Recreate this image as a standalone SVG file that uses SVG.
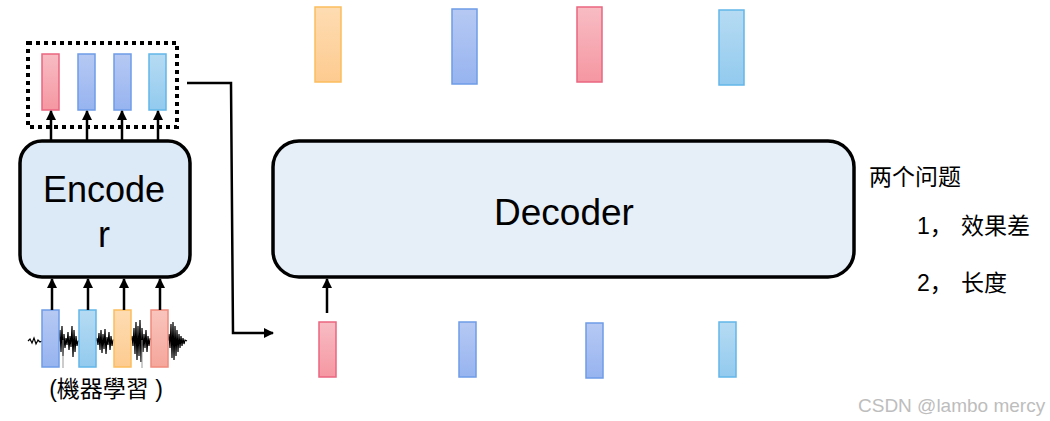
<svg xmlns="http://www.w3.org/2000/svg" width="1050" height="421" viewBox="0 0 1050 421">
<defs>
<linearGradient id="gPink" x1="0" y1="0" x2="0" y2="1"><stop offset="0" stop-color="#f8bcc3"/><stop offset="1" stop-color="#f597a2"/></linearGradient>
<linearGradient id="gBlue" x1="0" y1="0" x2="0" y2="1"><stop offset="0" stop-color="#b6c9f3"/><stop offset="1" stop-color="#97b4f0"/></linearGradient>
<linearGradient id="gLBlue" x1="0" y1="0" x2="0" y2="1"><stop offset="0" stop-color="#b6dbf3"/><stop offset="1" stop-color="#92caee"/></linearGradient>
<linearGradient id="gOrange" x1="0" y1="0" x2="0" y2="1"><stop offset="0" stop-color="#fedcb2"/><stop offset="1" stop-color="#fdcb90"/></linearGradient>
<linearGradient id="gSalmon" x1="0" y1="0" x2="0" y2="1"><stop offset="0" stop-color="#f9c5bd"/><stop offset="1" stop-color="#f5a69b"/></linearGradient>
<marker id="arr" viewBox="0 0 10 10" refX="9" refY="5" markerWidth="10" markerHeight="10" markerUnits="userSpaceOnUse" orient="auto"><path d="M0,0 L10,5 L0,10 z" fill="#000"/></marker>
</defs>
<style>
.pink{fill:url(#gPink);stroke:#ea6680;stroke-width:1.5}
.blue{fill:url(#gBlue);stroke:#6e9ce8;stroke-width:1.5}
.lblue{fill:url(#gLBlue);stroke:#63b6e9;stroke-width:1.5}
.orange{fill:url(#gOrange);stroke:#fbbd5e;stroke-width:1.5}
.salmon{fill:url(#gSalmon);stroke:#f08b7c;stroke-width:1.5}
.box{stroke:#000;stroke-width:3.5}
.ar{stroke:#000;stroke-width:2.5;fill:none;marker-end:url(#arr)}
.lbl{font-family:"Liberation Sans",Arial,sans-serif;fill:#000}
.cjk{font-family:"Liberation Sans","Noto Sans CJK SC",sans-serif;fill:#000}
.num{font-family:"Liberation Sans",Arial,sans-serif}
</style>
<rect width="1050" height="421" fill="#fff"/>

<g id="encoder-input">
<polyline fill="none" stroke="#000" stroke-width="1.2" points="28,341 30,339 32,343 34,338 36,344 38,340 40,342 42,341 59,341 60,330 61,352 62,326 63,356 64,334 65,348 66,338 67,345 68,332 69,350 70,336 71,347 72,326 73,357 74,330 75,352 76,336 77,346 78,341 96,341 97,338 98,345 99,333 100,350 101,330 102,353 103,334 104,349 105,329 106,354 107,337 108,345 109,332 110,350 111,336 112,346 113,340 131,340 132,336 133,346 134,328 135,354 136,322 137,360 138,326 139,356 140,320 141,362 142,328 143,352 144,334 145,348 146,330 147,352 148,336 149,346 150,339 168,340 169,334 170,348 171,324 172,358 173,322 174,360 175,326 176,356 177,330 178,352 179,334 180,348 181,336 182,346 183,338 184,344 185,340 187,341"/>
<line x1="63" y1="340" x2="63" y2="368" stroke="#999" stroke-width="1"/>
<line x1="142" y1="340" x2="142" y2="368" stroke="#999" stroke-width="1"/>
<rect class="blue" x="42" y="310" width="17" height="57"/>
<rect class="lblue" x="79" y="310" width="17" height="57"/>
<rect class="orange" x="114" y="310" width="17" height="57"/>
<rect class="salmon" x="151" y="310" width="17" height="57"/>
<text class="cjk" x="106" y="397" font-size="23" text-anchor="middle">(機器學習 )</text>
</g>

<g id="encoder">
<rect class="box" x="20" y="141" width="170" height="136" rx="22" fill="#dce9f6"/>
<text class="lbl" x="104" y="202" font-size="36" text-anchor="middle">Encode</text>
<text class="lbl" x="104" y="247" font-size="36" text-anchor="middle">r</text>
</g>

<g id="encoder-output">
<rect x="28" y="43" width="149" height="84" fill="none" stroke="#000" stroke-width="4" stroke-dasharray="4,4"/>
<rect class="pink" x="42" y="54" width="17" height="56"/>
<rect class="blue" x="78" y="54" width="17" height="56"/>
<rect class="blue" x="114" y="54" width="17" height="56"/>
<rect class="lblue" x="149" y="54" width="17" height="56"/>
</g>

<g id="decoder">
<rect class="box" x="273" y="141" width="581" height="136" rx="26" fill="#e6eff8"/>
<text class="lbl" x="564" y="225" font-size="37" text-anchor="middle">Decoder</text>
</g>

<g id="decoder-output">
<rect class="orange" x="315" y="7" width="26" height="75"/>
<rect class="blue" x="452" y="9" width="25" height="75"/>
<rect class="pink" x="577" y="7" width="25" height="75"/>
<rect class="lblue" x="719" y="10" width="25" height="75"/>
</g>

<g id="decoder-input">
<rect class="pink" x="319" y="322" width="17" height="55"/>
<rect class="blue" x="459" y="322" width="17" height="55"/>
<rect class="blue" x="586" y="323" width="17" height="55"/>
<rect class="lblue" x="719" y="322" width="17" height="55"/>
</g>

<g id="notes">
<text class="cjk" x="869" y="185" font-size="23">两个问题</text>
<text class="cjk" x="917" y="234" font-size="23"><tspan class="num">1</tspan>，</text>
<text class="cjk" x="961" y="234" font-size="23">效果差</text>
<text class="cjk" x="917" y="291" font-size="23"><tspan class="num">2</tspan>，</text>
<text class="cjk" x="961" y="291" font-size="23">长度</text>
<text x="858" y="412" font-size="19" font-family="Liberation Sans,Arial,sans-serif" fill="#bdbdbd">CSDN @lambo mercy</text>
</g>

<g id="connectors">
<line class="ar" x1="51" y1="141" x2="51" y2="111"/>
<line class="ar" x1="87" y1="141" x2="87" y2="111"/>
<line class="ar" x1="122" y1="141" x2="122" y2="111"/>
<line class="ar" x1="158" y1="141" x2="158" y2="111"/>
<line class="ar" x1="52" y1="310" x2="52" y2="279"/>
<line class="ar" x1="88" y1="310" x2="88" y2="279"/>
<line class="ar" x1="124" y1="310" x2="124" y2="279"/>
<line class="ar" x1="160" y1="310" x2="160" y2="279"/>
<polyline class="ar" points="187,83 231,83 233,333 273,333"/>
<line class="ar" x1="327" y1="313" x2="327" y2="279"/>
</g>
</svg>
